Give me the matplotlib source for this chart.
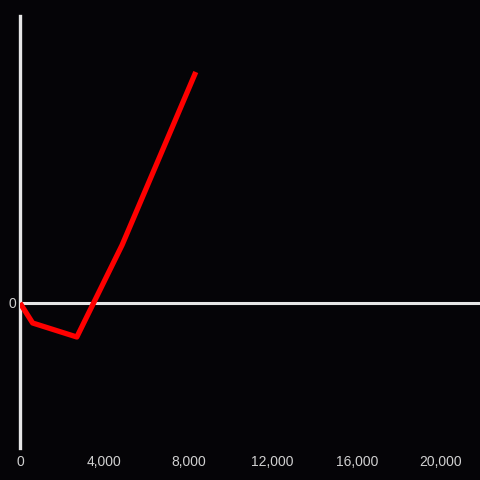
import matplotlib.pyplot as plt
from matplotlib.ticker import FuncFormatter

# data
x_vals = [0, 600, 2700, 4850, 8350]
y_vals = [0, -20, -34, 58, 231]
x_ticks = [0, 4000, 8000, 12000, 16000, 20000]

BG = '#050407'
AXIS = '#e6e6e6'

plt.rcParams['font.family'] = ['Liberation Sans', 'DejaVu Sans']

fig = plt.figure(figsize=(4.8, 4.8), dpi=100, facecolor=BG)
ax = fig.add_axes([20 / 480, 1 - 448 / 480, 1 - 20 / 480, 432 / 480])
ax.set_facecolor(BG)

ax.plot(x_vals, y_vals, color='#ff0000', lw=3.8, solid_capstyle='butt', zorder=3)
ax.axhline(0, color=AXIS, lw=2.2, zorder=2)

ax.set_xlim(0, 21850)
ax.set_ylim(-145, 287)

for s in ['top', 'right', 'bottom']:
    ax.spines[s].set_visible(False)
ax.spines['left'].set_color(AXIS)
ax.spines['left'].set_linewidth(2.4)

ax.set_xticks(x_ticks)
ax.xaxis.set_major_formatter(FuncFormatter(lambda v, p: f'{int(v):,}'))
ax.set_yticks([0])
ax.tick_params(axis='both', length=0, colors='#d0d0d0', labelsize=10)
ax.tick_params(axis='x', pad=5)
ax.tick_params(axis='y', pad=3)

fig.savefig('out.png', dpi=100, facecolor=BG)
